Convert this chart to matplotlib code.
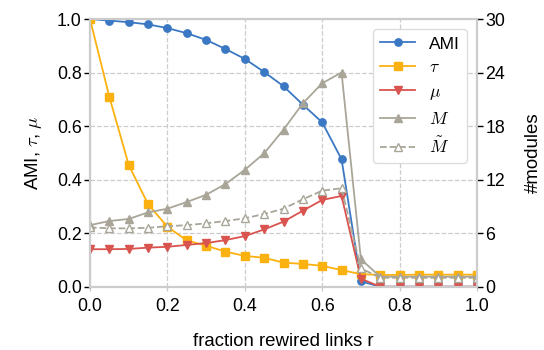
import numpy as np
import matplotlib
matplotlib.use("Agg")
import matplotlib.pyplot as plt

plt.rcParams['font.family'] = ['Liberation Sans', 'DejaVu Sans']
plt.rcParams['mathtext.fontset'] = 'cm'

# fraction of rewired links
r = [0.0, 0.05, 0.1, 0.15, 0.2, 0.25, 0.3, 0.35, 0.4, 0.45, 0.5,
     0.55, 0.6, 0.65, 0.7, 0.75, 0.8, 0.85, 0.9, 0.95, 1.0]

ami = [1.0, 0.994, 0.988, 0.980, 0.966, 0.947, 0.922, 0.888, 0.851, 0.802, 0.749,
       0.680, 0.614, 0.476, 0.02, 0.0, 0.0, 0.0, 0.0, 0.0, 0.0]
tau = [1.0, 0.709, 0.455, 0.308, 0.224, 0.173, 0.153, 0.131, 0.115, 0.108, 0.090,
       0.085, 0.078, 0.062, 0.047, 0.044, 0.044, 0.045, 0.045, 0.045, 0.045]
mu = [0.140, 0.140, 0.141, 0.146, 0.149, 0.156, 0.163, 0.174, 0.189, 0.214, 0.243,
      0.284, 0.324, 0.339, 0.03, 0.0, 0.0, 0.0, 0.0, 0.0, 0.0]
n_mod = [6.9, 7.36, 7.59, 8.33, 8.74, 9.49, 10.3, 11.5, 13.1, 14.95, 17.6,
         20.55, 22.8, 24.0, 3.07, 1.12, 1.12, 1.12, 1.12, 1.12, 1.12]
n_mod_med = [6.65, 6.54, 6.54, 6.6, 6.77, 6.9, 7.1, 7.36, 7.66, 8.15, 8.74,
             9.8, 10.76, 11.03, 2.06, 1.0, 1.0, 1.0, 1.0, 1.0, 1.0]

c_ami = "#3b78c3"
c_tau = "#fbb10f"
c_mu = "#d9534f"
c_mod = "#a9a699"

fig = plt.figure(figsize=(5.44, 3.5), dpi=100)
ax = fig.add_axes([90/544, 1 - 286.7/350, (477 - 90)/544, (286.7 - 19)/350])
ax2 = ax.twinx()

lw, ms = 1.3, 5.3
p1 = ax.plot(r, ami, '-o', color=c_ami, lw=lw, ms=ms, label="AMI")
p2 = ax.plot(r, tau, '-s', color=c_tau, lw=lw, ms=ms, label=r"$\tau$")
p3 = ax.plot(r, mu, '-v', color=c_mu, lw=lw, ms=ms, label=r"$\mu$")
p4 = ax2.plot(r, n_mod, '-^', color=c_mod, lw=lw, ms=ms, label=r"$M$")
p5 = ax2.plot(r, n_mod_med, '--^', color=c_mod, mfc='white', mec=c_mod, lw=lw, ms=ms,
              label=r"$\tilde{M}$")

ax.set_xlim(0, 1)
ax.set_ylim(0, 1)
ax2.set_ylim(0, 30)
ax.set_xticks([0, 0.2, 0.4, 0.6, 0.8, 1.0])
ax.set_yticks([0, 0.2, 0.4, 0.6, 0.8, 1.0])
ax2.set_yticks([0, 6, 12, 18, 24, 30])

ax.grid(True, ls='--', color='#cccccc', lw=0.9)
ax.set_axisbelow(True)

for a in (ax, ax2):
    for s in a.spines.values():
        s.set_color('#cccccc')
        s.set_linewidth(1.5)

ax.tick_params(axis='y', labelsize=12.8, length=4, width=1, color='black', pad=2)
ax.tick_params(axis='x', labelsize=12.8, length=3, width=1, color='#cccccc', pad=5)
ax2.tick_params(axis='y', labelsize=12.8, length=4, width=1, color='black', pad=2)

ax.set_xlabel("fraction rewired links r", fontsize=13.4, labelpad=13)
ax.set_ylabel(r"AMI, $\tau$, $\mu$", fontsize=13.4, labelpad=9)
ax2.set_ylabel("#modules", fontsize=13.4, labelpad=14)

ax2.legend(handles=p1 + p2 + p3 + p4 + p5, loc='upper right', fontsize=12.5,
           framealpha=1, edgecolor='#dddddd', borderaxespad=0.6)

fig.savefig("out.png", dpi=100)
